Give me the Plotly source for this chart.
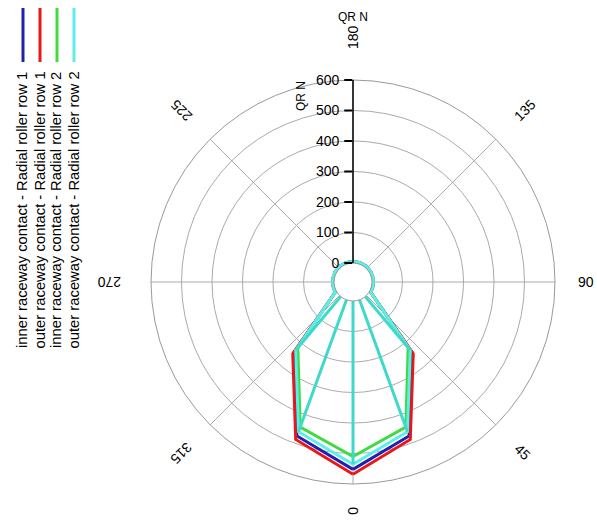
import math
import plotly.graph_objects as go

# Roller positions (deg) and contact loads QR (N) for each raceway/row
roller_angles = list(range(0, 360, 20))

inner_row1 = [552, 475, 240, 5, 5, 5, 5, 5, 5, 5, 5, 5, 5, 5, 5, 5, 240, 475]
outer_row1 = [568, 487, 245, 5, 5, 5, 5, 5, 5, 5, 5, 5, 5, 5, 5, 5, 245, 487]
inner_row2 = [510, 444, 219, 5, 5, 5, 5, 5, 5, 5, 5, 5, 5, 5, 5, 5, 219, 444]
outer_row2 = [535, 460, 230, 5, 5, 5, 5, 5, 5, 5, 5, 5, 5, 5, 5, 5, 230, 460]

series_names = [
    "inner raceway contact - Radial roller row 1",
    "outer raceway contact - Radial roller row 1",
    "inner raceway contact - Radial roller row 2",
    "outer raceway contact - Radial roller row 2",
]
series_values = [inner_row1, outer_row1, inner_row2, outer_row2]
series_colors = ["#2020B0", "#E81818", "#3EDC3E", "#5CEDED"]
spoke_color = "#3FD9CB"

angle_ticks = [0, 45, 90, 135, 180, 225, 270, 315]
radial_ticks = [0, 100, 200, 300, 400, 500, 600]

W, H = 597, 522
FONT = "Liberation Sans, Arial, sans-serif"

# polar area in pixels (square)
px_left, px_right = 151, 555
px_top, px_bottom = 80, 484
cx_px = (px_left + px_right) / 2
cy_px = (px_top + px_bottom) / 2

fig = go.Figure()

for name, vals, col in zip(series_names, series_values, series_colors):
    fig.add_trace(go.Scatterpolar(
        r=vals + vals[:1],
        theta=roller_angles + roller_angles[:1],
        mode="lines",
        line=dict(color=col, width=3),
        name=name,
        showlegend=False,
    ))

# radial load vectors for the outer raceway of row 2
spoke_r, spoke_t = [], []
for a, v in zip(roller_angles, outer_row2):
    if v > 50:
        spoke_r += [0, v, None]
        spoke_t += [a, a, None]
fig.add_trace(go.Scatterpolar(
    r=spoke_r, theta=spoke_t, mode="lines",
    line=dict(color=spoke_color, width=3),
    showlegend=False, hoverinfo="skip",
))

fig.update_layout(
    width=W, height=H,
    margin=dict(l=0, r=0, t=0, b=0),
    paper_bgcolor="white",
    plot_bgcolor="white",
    font=dict(family=FONT, size=14, color="black"),
    polar=dict(
        domain=dict(x=[px_left / W, px_right / W], y=[1 - px_bottom / H, 1 - px_top / H]),
        bgcolor="white",
        hole=19 / 202,
        radialaxis=dict(
            range=[0, 600],
            tickvals=radial_ticks,
            angle=90,
            tickangle=90,
            side="counterclockwise",
            showline=True, linecolor="black", linewidth=1.5,
            ticks="outside", ticklen=8, tickcolor="black", tickwidth=1.5,
            showgrid=True, gridcolor="#AAAAAA", gridwidth=1,
            tickfont=dict(family=FONT, size=14, color="black"),
        ),
        angularaxis=dict(
            rotation=-90,
            direction="counterclockwise",
            tickvals=angle_ticks,
            showticklabels=False,
            ticks="",
            showline=True, linecolor="#999999", linewidth=1,
            showgrid=True, gridcolor="#AAAAAA", gridwidth=1,
        ),
    ),
)

annotations = []
# angular labels, turned with the dial
label_radius = {0: 229, 45: 240, 90: 233, 135: 243, 180: 245, 225: 243, 270: 244, 315: 243}
for a in angle_ticks:
    t = math.radians(a)
    R = label_radius[a]
    x = cx_px + R * math.sin(t)
    y = cy_px + R * math.cos(t)
    ang = 90 - a
    while ang > 180:
        ang -= 360
    while ang <= -180:
        ang += 360
    annotations.append(dict(
        x=x / W, y=1 - y / H, xref="paper", yref="paper",
        text=str(a), showarrow=False, textangle=ang,
        font=dict(family=FONT, size=14, color="black"),
        xanchor="center", yanchor="middle",
    ))

# axis titles
annotations.append(dict(
    x=cx_px / W, y=1 - 17 / H, xref="paper", yref="paper",
    text="QR N", showarrow=False,
    font=dict(family=FONT, size=12, color="black"),
    xanchor="center", yanchor="middle",
))
annotations.append(dict(
    x=301 / W, y=1 - 96 / H, xref="paper", yref="paper",
    text="QR N", showarrow=False, textangle=-90,
    font=dict(family=FONT, size=12, color="black"),
    xanchor="center", yanchor="middle",
))

# vertical legend
legend_x = [22, 39, 56, 73]
shapes = []
for xp, name, col in zip(legend_x, series_names, series_colors):
    shapes.append(dict(
        type="line", xref="paper", yref="paper",
        x0=(xp + 1) / W, x1=(xp + 1) / W, y0=1 - 8 / H, y1=1 - 62 / H,
        line=dict(color=col, width=3),
    ))
    annotations.append(dict(
        x=xp / W, y=1 - 70 / H, xref="paper", yref="paper",
        text=name, showarrow=False, textangle=-90,
        font=dict(family=FONT, size=14.8, color="black"),
        xanchor="center", yanchor="top",
    ))

fig.update_layout(annotations=annotations, shapes=shapes)

fig.write_html("out.html")
